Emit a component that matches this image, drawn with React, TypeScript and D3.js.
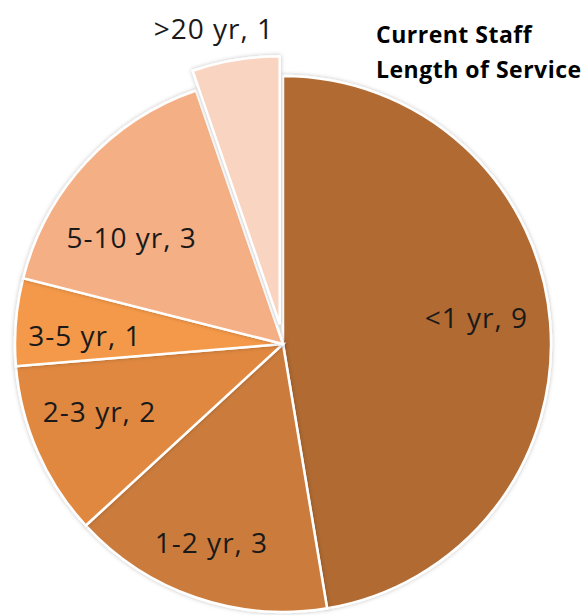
import React from "react";
import * as d3 from "d3";

const categories = ["<1 yr", "1-2 yr", "2-3 yr", "3-5 yr", "5-10 yr", ">20 yr"];
const values = [9, 3, 2, 1, 3, 1];
const colors = ["#B06A33", "#CB7B3C", "#E0883F", "#F4994A", "#F5AF84", "#F9D4C1"];
const exploded = [false, false, false, false, false, true];
const labelRadius = [0.728, 0.79, 0.73, 0.74, 0.69, 1.13];
const labelAngleShift = [-3.0, 0.8, 3.4, -2.4, -7.6, -2.9];
const titleLines = ["Current Staff", "Length of Service"];

export default function App() {
  const W = 588, H = 615;
  const cx = 283, cy = 344, r = 268;
  const explode = 20;
  const data = categories.map((c, i) => ({ c, v: values[i], i }));
  const pie = d3.pie<any>().value((d) => d.v).sort(null).startAngle(0).endAngle(2 * Math.PI);
  const arcs = pie(data);
  const arc = d3.arc<any>().innerRadius(0).outerRadius(r);
  const font = "'Open Sans', sans-serif";
  return (
    <svg width={W} height={H} style={{ position: "absolute", left: 0, top: 0 }}>
      <defs>
        <filter id="sh" x="-10%" y="-10%" width="120%" height="120%">
          <feDropShadow dx="0" dy="0" stdDeviation="2" floodColor="#000" floodOpacity="0.25" />
        </filter>
      </defs>
      <rect width={W} height={H} fill="#fff" />
      <g transform={`translate(${cx},${cy})`}>
        {arcs.map((a, k) => {
          const mid = (a.startAngle + a.endAngle) / 2;
          const off = exploded[k] ? explode : 0;
          const ox = Math.sin(mid) * off, oy = -Math.cos(mid) * off;
          return (
            <path key={k} d={arc(a) as string} transform={`translate(${ox},${oy})`}
              fill={colors[k]} stroke="#fff" strokeWidth={2.5} filter="url(#sh)" />
          );
        })}
        {arcs.map((a, k) => {
          const mid = (a.startAngle + a.endAngle) / 2 + (labelAngleShift[k] * Math.PI) / 180;
          const off = exploded[k] ? explode : 0;
          const rr = labelRadius[k] * r + off;
          const x = Math.sin(mid) * rr, y = -Math.cos(mid) * rr;
          return (
            <text key={k} x={x} y={y + 10} textAnchor="middle"
              fontFamily={font} fontSize={28} letterSpacing={1} fill="#1a1a1a">
              {`${categories[k]}, ${values[k]}`}
            </text>
          );
        })}
      </g>
      {titleLines.map((t, i) => (
        <text key={i} x={376} y={43 + i * 35} fontFamily={font} fontWeight="bold" fontSize={23} letterSpacing={0.5} fill="#000">{t}</text>
      ))}
    </svg>
  );
}
